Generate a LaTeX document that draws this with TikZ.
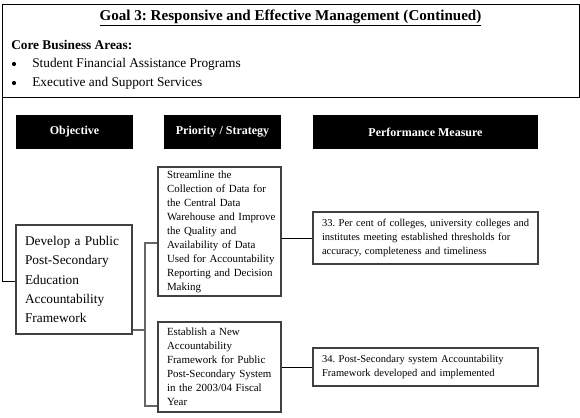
\documentclass[tikz,border=0pt]{standalone}
\usepackage{fontspec}
\setmainfont{Liberation Serif}
\frenchspacing
\tikzset{
  headbox/.style={fill=black, text=white, inner sep=0pt, font=\bfseries\fontsize{9}{11}\selectfont},
  itembox/.style={draw=black!75, line width=0.8pt, inner xsep=0pt, inner ysep=0pt, align=left, execute at begin node={\leftskip=6.75pt\relax}},
  treeline/.style={draw=black!60, line width=1pt},
  linkline/.style={draw=black, line width=0.6pt}
}
\begin{document}
\begin{tikzpicture}[x=0.75pt,y=0.75pt,yscale=-1,xscale=1]
\useasboundingbox (0,0) rectangle (580,417);

%Shape: Goal box
\node (goal) [draw=black, line width=0.8pt, minimum width=432.75pt, minimum height=69.75pt, anchor=north west, inner sep=0pt] at (2,4) {};
% Text Node
\node (title) [font=\bfseries\fontsize{11.3}{13}\selectfont] at (290.5,18) {\underline{Goal 3: Responsive and Effective Management (Continued)}};
% Text Node
\node (core) [anchor=west, inner sep=0pt, font=\bfseries\fontsize{10}{12}\selectfont] at (11,45) {Core Business Areas:};
% Text Node
\node (area1) [anchor=west, inner sep=0pt, font=\fontsize{10}{12}\selectfont] at (32,64) {Student Financial Assistance Programs};
\node (dot1) [circle, fill=black, inner sep=1.1pt] at (14,64) {};
% Text Node
\node (area2) [anchor=west, inner sep=0pt, font=\fontsize{10}{12}\selectfont] at (32,83) {Executive and Support Services};
\node (dot2) [circle, fill=black, inner sep=1.1pt] at (14,83) {};

%Shape: Column heads
\node (hobj) [headbox, minimum width=87.75pt, minimum height=25.5pt] at (74.5,132) {Objective};
\node (hstrat) [headbox, minimum width=87.75pt, minimum height=25.5pt] at (222.5,132) {Priority / Strategy};
\node (hmeas) [headbox, minimum width=168.75pt, minimum height=25.5pt] at (425.5,132) {Performance Measure};

%Shape: Objective
\node (obj) [itembox, minimum width=87pt, minimum height=81.75pt, text width=87pt, font=\fontsize{10}{14.5}\selectfont] at (74,279.5) {Develop a Public\\Post-Secondary\\Education\\Accountability\\Framework};

%Shape: Strategies
\node (strat1) [itembox, minimum width=92.25pt, minimum height=96.75pt, text width=92.25pt, font=\fontsize{8.2}{10.5}\selectfont] at (219.5,231.5) {Streamline the\\Collection of Data for\\the Central Data\\Warehouse and Improve\\the Quality and\\Availability of Data\\Used for Accountability\\Reporting and Decision\\Making};
\node (strat2) [itembox, minimum width=92.25pt, minimum height=67.5pt, text width=92.25pt, font=\fontsize{8.2}{10.5}\selectfont] at (219.5,367) {Establish a New\\Accountability\\Framework for Public\\Post-Secondary System\\in the 2003/04 Fiscal\\Year};

%Shape: Measures
\node (meas33) [itembox, minimum width=168.75pt, minimum height=39pt, text width=168.75pt, font=\fontsize{7.9}{10.5}\selectfont] at (425.5,238) {33. Per cent of colleges, university colleges and\\institutes meeting established thresholds for\\accuracy, completeness and timeliness};
\node (meas34) [itembox, minimum width=168.75pt, minimum height=28.5pt, text width=168.75pt, font=\fontsize{7.9}{10.5}\selectfont] at (425.5,367) {34. Post-Secondary system Accountability\\Framework developed and implemented};

%Straight Lines: goal to objective
\coordinate (drop) at (2,281);
\draw [linkline] (goal.south west) -- (drop) -- (drop -| obj.west);
%Straight Lines: objective to strategies
\coordinate (fork) at (145,330);
\coordinate (forktop) at (145,243);
\coordinate (forkbot) at (145,406);
\draw [treeline] (obj.east |- fork) -- (fork);
\draw [treeline] (forktop -| strat1.west) -- (forktop) -- (forkbot) -- (forkbot -| strat2.west);
%Straight Lines: strategies to measures
\draw [linkline] (strat1.east |- meas33.west) -- (meas33.west);
\draw [linkline] (strat2.east) -- (meas34.west);
\end{tikzpicture}
\end{document}
